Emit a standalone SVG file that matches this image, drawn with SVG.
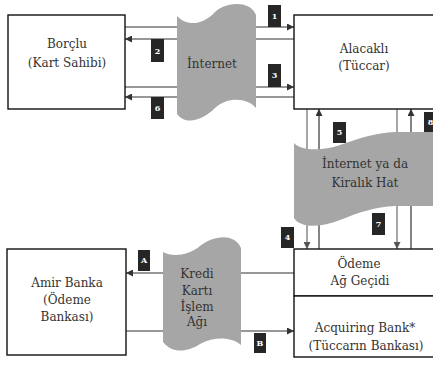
<svg xmlns="http://www.w3.org/2000/svg" width="433" height="367" viewBox="0 0 433 367">
<style>
.box{fill:#fff;stroke:#111;stroke-width:1.4}
.t{font-family:"DejaVu Serif","Liberation Serif",serif;font-size:12px;fill:#333;text-anchor:middle}
.cloud{fill:#a6a6a6;stroke:none}
.ln{stroke:#333;stroke-width:1.2;fill:none}
.lg{stroke:#808080;stroke-width:1.4;fill:none}
.lb rect{fill:#262626}
.lb text{font-family:"DejaVu Serif","Liberation Serif",serif;font-size:8px;font-weight:bold;fill:#fff;text-anchor:middle}
</style>
<defs>
<marker id="ah" viewBox="0 0 10 10" refX="10" refY="5" markerWidth="8" markerHeight="7" markerUnits="userSpaceOnUse" orient="auto"><path d="M0,0 L10,5 L0,10 z" fill="#333"/></marker>
<marker id="ahg" viewBox="0 0 10 10" refX="10" refY="5" markerWidth="8" markerHeight="7" markerUnits="userSpaceOnUse" orient="auto"><path d="M0,0 L10,5 L0,10 z" fill="#555"/></marker>
</defs>
<rect width="433" height="367" fill="#fff"/>
<g id="connectors">
<line class="ln" x1="125" y1="27" x2="294" y2="27" marker-end="url(#ah)"/>
<line class="ln" x1="294" y1="39" x2="125" y2="39" marker-end="url(#ah)"/>
<line class="ln" x1="125" y1="87" x2="294" y2="87" marker-end="url(#ah)"/>
<line class="ln" x1="294" y1="97" x2="125" y2="97" marker-end="url(#ah)"/>
<line class="lg" x1="307" y1="109" x2="307" y2="249" marker-end="url(#ahg)"/>
<line class="ln" x1="319" y1="249" x2="319" y2="109" marker-end="url(#ah)"/>
<line class="lg" x1="397" y1="109" x2="397" y2="249" marker-end="url(#ahg)"/>
<line class="ln" x1="411" y1="249" x2="411" y2="109" marker-end="url(#ah)"/>
<line class="ln" x1="294" y1="273" x2="126" y2="273" marker-end="url(#ah)"/>
<line class="ln" x1="126" y1="331" x2="294" y2="331" marker-end="url(#ah)"/>
</g>
<g id="borclu">
<rect class="box" x="8" y="15" width="117" height="94"/>
<text class="t" x="67" y="48">Borçlu</text>
<text class="t" x="67" y="67">(Kart Sahibi)</text>
</g>
<g id="alacakli">
<rect class="box" x="294" y="15" width="150" height="94"/>
<text class="t" x="364" y="53">Alacaklı</text>
<text class="t" x="364" y="70">(Tüccar)</text>
</g>
<g id="internet">
<path class="cloud" d="M177,16 C186,26 202,26 215,12 C226,2 250,0 256,15 L256,108 C248,98 228,96 215,108 C203,120 186,126 177,114 Z"/>
<text class="t" x="212" y="68">İnternet</text>
</g>
<g id="kiralik-hat">
<path class="cloud" d="M294,143 C300,150 320,152 340,145 C360,138 375,133 395,132 L440,132 L440,206 L395,206 C375,207 360,212 340,220 C320,228 300,228 294,218 Z"/>
<text class="t" x="365" y="168">İnternet ya da</text>
<text class="t" x="365" y="187">Kiralık Hat</text>
</g>
<g id="odeme-ag-gecidi">
<rect class="box" x="294" y="249" width="150" height="47"/>
<text class="t" x="359" y="268">Ödeme</text>
<text class="t" x="360" y="285">Ağ Geçidi</text>
</g>
<g id="acquiring-bank">
<rect class="box" x="294" y="296" width="150" height="61"/>
<text class="t" x="365" y="332">Acquiring Bank*</text>
<text class="t" x="366" y="350">(Tüccarın Bankası)</text>
</g>
<g id="amir-banka">
<rect class="box" x="7" y="249" width="119" height="106"/>
<text class="t" x="67" y="287">Amir Banka</text>
<text class="t" x="67" y="304">(Ödeme</text>
<text class="t" x="67" y="321">Bankası)</text>
</g>
<g id="kredi-karti">
<path class="cloud" d="M163,252 C172,257 188,256 200,246 C212,236 234,232 241,248 L241,345 C232,337 215,336 200,344 C188,352 172,354 163,342 Z"/>
<text class="t" x="197" y="278">Kredi</text>
<text class="t" x="197" y="295">Kartı</text>
<text class="t" x="197" y="311">İşlem</text>
<text class="t" x="197" y="326">Ağı</text>
</g>
<g id="labels">
<g class="lb"><rect x="268" y="5" width="13" height="22"/><text x="274.5" y="19">1</text></g>
<g class="lb"><rect x="151" y="39" width="13" height="23"/><text x="157.5" y="54">2</text></g>
<g class="lb"><rect x="268" y="64" width="13" height="23"/><text x="274.5" y="78">3</text></g>
<g class="lb"><rect x="151" y="97" width="13" height="22"/><text x="157.5" y="111">6</text></g>
<g class="lb"><rect x="281" y="227" width="13" height="21"/><text x="287.5" y="240">4</text></g>
<g class="lb"><rect x="333" y="122" width="13" height="21"/><text x="339.5" y="135">5</text></g>
<g class="lb"><rect x="372" y="213" width="13" height="22"/><text x="378.5" y="227">7</text></g>
<g class="lb"><rect x="424" y="112" width="13" height="20"/><text x="430.5" y="125">8</text></g>
<g class="lb"><rect x="138" y="250" width="12" height="21"/><text x="144" y="263">A</text></g>
<g class="lb"><rect x="254" y="333" width="12" height="20"/><text x="260" y="346">B</text></g>
</g>
</svg>
